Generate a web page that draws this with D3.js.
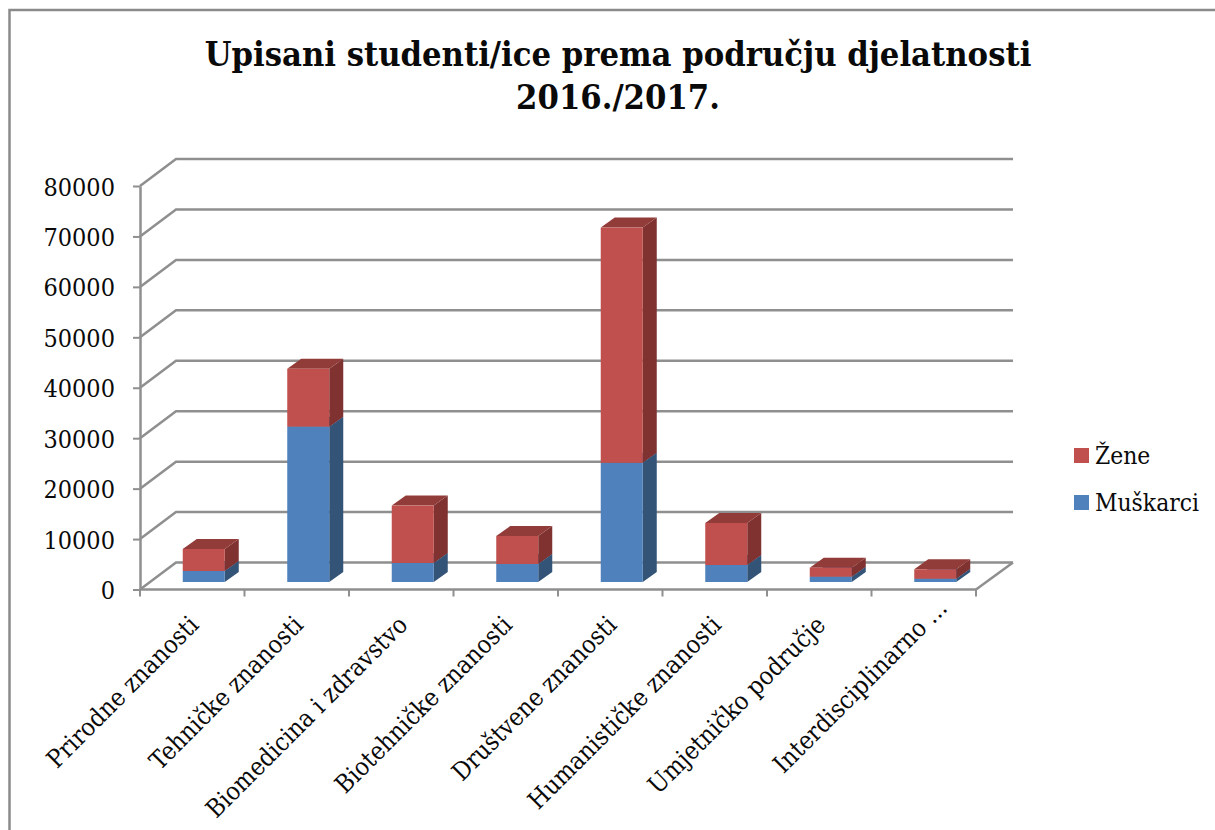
<!DOCTYPE html>
<html>
<head>
<meta charset="utf-8">
<script src="https://cdn.jsdelivr.net/npm/d3@7"></script>
<style>
    html, body { margin: 0; padding: 0; background: #fff; overflow: hidden; }
    text { font-family: "DejaVu Serif Condensed", "DejaVu Serif", serif; fill: #0a0a0a; }
</style>
</head>
<body>
<div id="chart"></div>
<script>
const categories = ["Prirodne znanosti", "Tehničke znanosti", "Biomedicina i zdravstvo", "Biotehničke znanosti",
    "Društvene znanosti", "Humanističke znanosti", "Umjetničko područje", "Interdisciplinarno ..."];
const muskarci = [2180, 30800, 3770, 3570, 23620, 3370, 1050, 650];
const zene = [4370, 11480, 11380, 5560, 46650, 8330, 1790, 1870];
const yTicks = [0, 10000, 20000, 30000, 40000, 50000, 60000, 70000, 80000];
const titleLines = ["Upisani studenti/ice prema području djelatnosti", "2016./2017."];
const seriesNames = ["Muškarci", "Žene"];

const width = 1215, height = 830;
const svg = d3.select("#chart").append("svg").attr("width", width).attr("height", height);

const colors = {
    "Muškarci": {front: "#4f81bd", side: "#335377", top: "#3f6797"},
    "Žene": {front: "#c0504d", side: "#7f3230", top: "#923c3a"}
};
const gridColor = "#8f8f8f";

const x = d3.scaleBand().domain(categories).range([140, 976]);
const y = d3.scaleLinear().domain([0, 80000]).range([589.5, 186]);

// depth of the floor, and how far the bars stand in from the front edge
const wallDx = 36, wallDy = -27;
const barInDx = 11.5, barInDy = -7.5;
const barDepthDx = 14, barDepthDy = -10;
const barWidth = 42;

// outer frame, only left and top show up in the crop
svg.append("path")
    .attr("d", "M9.5," + height + "V10H" + width)
    .attr("fill", "none")
    .attr("stroke", "#8a8a8a")
    .attr("stroke-width", 2.5);

// walls and floor
const grid = svg.append("g").attr("fill", "none").attr("stroke", gridColor).attr("stroke-width", 2.5);
yTicks.forEach(t => {
    grid.append("path").attr("d", d3.line()([
        [x.range()[0], y(t)],
        [x.range()[0] + wallDx, y(t) + wallDy],
        [x.range()[1] + wallDx + 1, y(t) + wallDy]
    ]));
});
grid.append("path").attr("d", d3.line()([
    [x.range()[1] + wallDx + 1, y(0) + wallDy],
    [x.range()[1], y(0)]
]));

// y axis
const yAxis = svg.append("g")
    .attr("transform", "translate(140,0)")
    .call(d3.axisLeft(y).tickValues(yTicks).tickFormat(d3.format("d")).tickSize(7).tickPadding(18).tickSizeOuter(0));
yAxis.select(".domain").attr("stroke", gridColor).attr("stroke-width", 2.5);
yAxis.selectAll(".tick line").attr("stroke", gridColor).attr("stroke-width", 2);
yAxis.selectAll(".tick text").style("font-size", "25px").attr("dy", "0.36em");

// x axis
const xEdges = categories.map(c => x(c)).concat([x.range()[1]]);
const xAxis = svg.append("g").attr("transform", "translate(0," + y(0) + ")");
xAxis.append("path")
    .attr("d", "M" + x.range()[0] + ",0H" + x.range()[1])
    .attr("stroke", gridColor).attr("stroke-width", 2.5).attr("fill", "none");
xAxis.selectAll("line").data(xEdges).join("line")
    .attr("x1", d => d).attr("x2", d => d)
    .attr("y1", 0).attr("y2", 7)
    .attr("stroke", gridColor).attr("stroke-width", 2);
// the truncated last label sits further up the diagonal than the others
xAxis.selectAll("text").data(categories).join("text")
    .attr("text-anchor", "end")
    .attr("transform", (d, i) => {
        const shift = i === categories.length - 1 ? 17 : 0;
        return "translate(" + (x(d) + 60 + shift) + "," + (37 - shift) + ") rotate(-45)";
    })
    .style("font-size", "25px")
    .text(d => d);

// stacked bars
const rows = categories.map((c, i) => ({category: c, "Muškarci": muskarci[i], "Žene": zene[i]}));
const stacked = d3.stack().keys(seriesNames)(rows);
const line = d3.line();

stacked.forEach(layer => {
    const col = colors[layer.key];
    const g = svg.append("g");
    layer.forEach(d => {
        const cat = d.data.category;
        const left = x(cat) + (x.bandwidth() - barWidth) / 2 + barInDx;
        const right = left + barWidth;
        const bottom = y(d[0]) + barInDy;
        const top = y(d[1]) + barInDy;
        g.append("path").attr("fill", col.side).attr("d", line([
            [right, bottom], [right + barDepthDx, bottom + barDepthDy],
            [right + barDepthDx, top + barDepthDy], [right, top]
        ]) + "Z");
        g.append("path").attr("fill", col.top).attr("d", line([
            [left, top], [right, top],
            [right + barDepthDx, top + barDepthDy], [left + barDepthDx, top + barDepthDy]
        ]) + "Z");
        g.append("rect")
            .attr("x", left).attr("y", top)
            .attr("width", barWidth).attr("height", bottom - top)
            .attr("fill", col.front);
    });
});

// title
svg.append("g").selectAll("text").data(titleLines).join("text")
    .attr("x", 618)
    .attr("y", (d, i) => 66 + i * 43)
    .attr("text-anchor", "middle")
    .style("font-size", "34.2px")
    .style("font-weight", "bold")
    .text(d => d);

// legend
const legend = svg.append("g");
const legendRows = [
    {name: "Žene", box: 448, base: 464},
    {name: "Muškarci", box: 495, base: 511}
];
legend.selectAll("rect").data(legendRows).join("rect")
    .attr("x", 1074).attr("y", d => d.box)
    .attr("width", 15).attr("height", 15)
    .attr("fill", d => colors[d.name].front);
legend.selectAll("text").data(legendRows).join("text")
    .attr("x", 1095).attr("y", d => d.base)
    .style("font-size", "24.4px")
    .text(d => d.name);
</script>
</body>
</html>
